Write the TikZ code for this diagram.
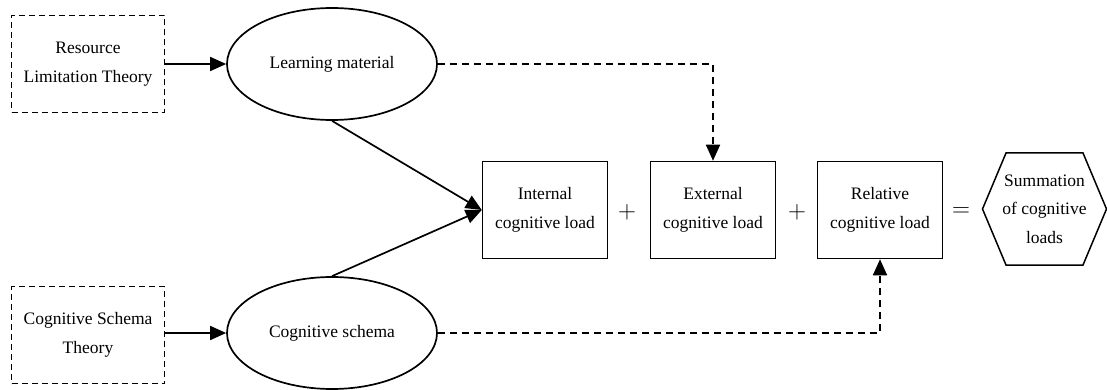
\documentclass[tikz,border=0pt]{standalone}
\usepackage{fontspec}
\setmainfont{Liberation Serif}
\usetikzlibrary{shapes.geometric,arrows.meta}

\begin{document}
\begin{tikzpicture}[x=1pt,y=-1pt,
    every node/.style={font=\fontsize{17.5}{28.5}\selectfont, align=center},
    theory/.style={draw, line width=1.9pt, dash pattern=on 6pt off 4pt, minimum width=153pt, minimum height=97pt},
    factor/.style={draw, ellipse, line width=1.7pt, minimum width=210pt, minimum height=112pt, inner sep=0pt},
    load/.style={draw, line width=1.5pt, minimum width=125pt, minimum height=97pt},
    op/.style={font=\fontsize{24}{24}\selectfont},
    link/.style={line width=1.7pt, -{Triangle[length=16pt,width=14pt]}},
    dlink/.style={link, dash pattern=on 7pt off 5pt}]

    \useasboundingbox (0,0) rectangle (1107,390);

    % sources
    \node[theory] (rlt) at (88,64) {Resource\\Limitation Theory};
    \node[theory] (cst) at (88,335) {Cognitive Schema\\Theory};
    \node[factor] (lm) at (332,64) {Learning material};
    \node[factor] (cs) at (332,333) {Cognitive schema};

    % loads
    \node[load] (int) at (545,210) {Internal\\cognitive load};
    \node[op] (p1) at (627,212) {$+$};
    \node[load] (ext) at (713,210) {External\\cognitive load};
    \node[op] (p2) at (797,212) {$+$};
    \node[load] (rel) at (880,210) {Relative\\cognitive load};
    \node[op] (eq) at (961,212) {$=$};
    \node (sum) at (1044.5,209) {Summation\\of cognitive\\loads};
    \draw[line width=1.5pt] (sum.center) ++(-62,0) -- ++(23.5,-56) -- ++(77,0)
        -- ++(23.5,56) -- ++(-23.5,56) -- ++(-77,0) -- cycle;

    \draw[link] (rlt.east |- lm.west) -- (lm.west);
    \draw[link] (cst.east |- cs.west) -- (cs.west);
    \draw[link] (lm.south) -- (int.west);
    \draw[link] (cs.north) -- (int.west);
    \draw[dlink] (lm.east) -| (ext.north);
    \draw[dlink] (cs.east) -| (rel.south);

\end{tikzpicture}
\end{document}
